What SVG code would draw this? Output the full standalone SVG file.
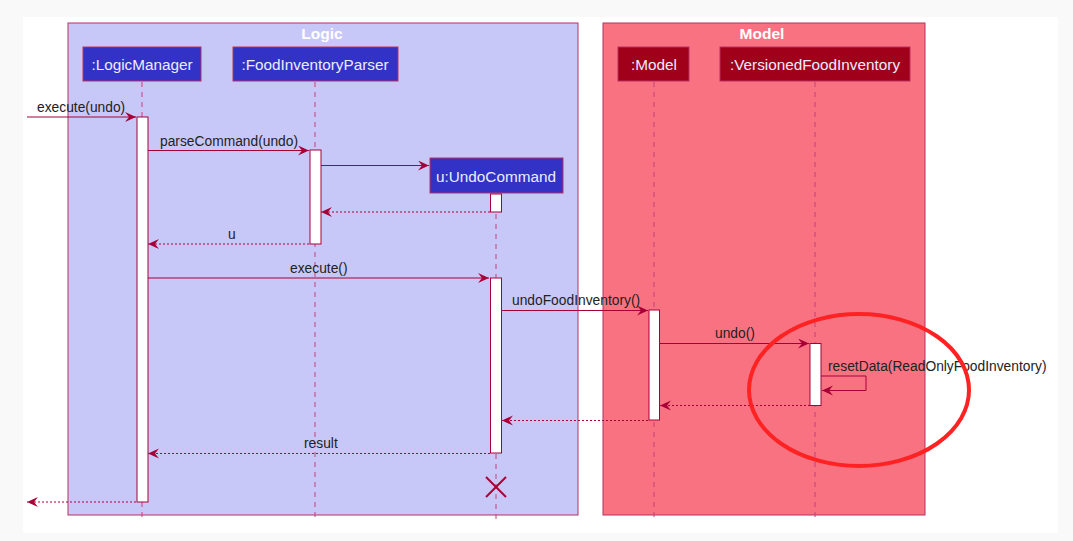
<svg xmlns="http://www.w3.org/2000/svg" width="1073" height="541" viewBox="0 0 1073 541">
<style>
.box{stroke:#b8305e;stroke-width:1}
.ptxt{font-family:"Liberation Sans",Arial,sans-serif;font-size:15.3px;fill:#ececff;text-anchor:middle}
.ttl{font-family:"Liberation Sans",Arial,sans-serif;font-size:15.5px;font-weight:bold;fill:#ffffff;text-anchor:middle}
.life{stroke:#c4407a;stroke-width:1;stroke-dasharray:5,5;fill:none}
.act{fill:#ffffff;stroke:#a80036;stroke-width:1}
.msg{stroke:#a80036;stroke-width:1;fill:none}
.ret{stroke:#a80036;stroke-width:1;fill:none;stroke-dasharray:2,2}
.lbl{font-family:"Liberation Sans",Arial,sans-serif;font-size:13.8px;fill:#222222}
</style>
<defs>
<marker id="ah" markerWidth="12" markerHeight="12" refX="11" refY="5" orient="auto" markerUnits="userSpaceOnUse">
<polygon points="0,0 11,5 0,10 4,5" fill="#a80036"/>
</marker>
</defs>
<rect x="0" y="0" width="1073" height="541" fill="#f9f9f9"/>
<rect x="23" y="17" width="1035" height="516" fill="#ffffff"/>

<g id="logic-box">
<rect x="68" y="23" width="510" height="492" fill="#c8c8f8" class="box"/>
<text x="322" y="39" class="ttl">Logic</text>
</g>
<g id="model-box">
<rect x="603" y="23" width="322" height="492" fill="#f97282" class="box"/>
<text x="762" y="39" class="ttl">Model</text>
</g>

<g id="lifelines">
<line x1="142" y1="82" x2="142" y2="521" class="life"/>
<line x1="315" y1="82" x2="315" y2="521" class="life"/>
<line x1="496" y1="194" x2="496" y2="521" class="life"/>
<line x1="654" y1="82" x2="654" y2="521" class="life"/>
<line x1="815" y1="82" x2="815" y2="521" class="life"/>
</g>

<g id="LogicManager">
<rect x="83" y="47" width="118" height="34" fill="#3232c6" class="box"/>
<text x="142" y="70" class="ptxt">:LogicManager</text>
<rect x="137" y="117" width="11" height="385" class="act"/>
</g>
<g id="FoodInventoryParser">
<rect x="233" y="47" width="165" height="34" fill="#3232c6" class="box"/>
<text x="315" y="70" class="ptxt">:FoodInventoryParser</text>
<rect x="310" y="150" width="11" height="94" class="act"/>
</g>
<g id="UndoCommand">
<rect x="430" y="158" width="133" height="35" fill="#3232c6" class="box"/>
<text x="496" y="182" class="ptxt">u:UndoCommand</text>
<rect x="490.5" y="194" width="11" height="18" class="act"/>
<rect x="490.5" y="278" width="11" height="175" class="act"/>
<g stroke="#a80036" stroke-width="2">
<line x1="486" y1="477" x2="506" y2="497"/>
<line x1="506" y1="477" x2="486" y2="497"/>
</g>
</g>
<g id="Model">
<rect x="618" y="47" width="71" height="34" fill="#a0001a" class="box"/>
<text x="654" y="70" class="ptxt">:Model</text>
<rect x="649" y="310" width="10.5" height="110" class="act"/>
</g>
<g id="VersionedFoodInventory">
<rect x="720" y="47" width="190" height="34" fill="#a0001a" class="box"/>
<text x="815" y="70" class="ptxt">:VersionedFoodInventory</text>
<rect x="810" y="343.5" width="11" height="62" class="act"/>
</g>

<g id="connectors">
<line x1="27" y1="117" x2="136" y2="117" class="msg" marker-end="url(#ah)"/>
<text x="37" y="112" class="lbl">execute(undo)</text>
<line x1="148" y1="150.5" x2="309" y2="150.5" class="msg" marker-end="url(#ah)"/>
<text x="160" y="146" class="lbl">parseCommand(undo)</text>
<line x1="321" y1="165.5" x2="429" y2="165.5" class="msg" marker-end="url(#ah)"/>
<line x1="490" y1="212" x2="321" y2="212" class="ret" marker-end="url(#ah)"/>
<line x1="309" y1="244" x2="148" y2="244" class="ret" marker-end="url(#ah)"/>
<text x="228" y="239" class="lbl">u</text>
<line x1="148" y1="278" x2="489" y2="278" class="msg" marker-end="url(#ah)"/>
<text x="290" y="273" class="lbl">execute()</text>
<line x1="501" y1="310.5" x2="648" y2="310.5" class="msg" marker-end="url(#ah)"/>
<text x="512" y="305" class="lbl">undoFoodInventory()</text>
<line x1="659" y1="343.5" x2="809" y2="343.5" class="msg" marker-end="url(#ah)"/>
<text x="715" y="338" class="lbl">undo()</text>
<polyline points="821,376 866,376 866,390.5 822,390.5" class="msg" marker-end="url(#ah)"/>
<text x="828" y="371" class="lbl">resetData(ReadOnlyFoodInventory)</text>
<line x1="810" y1="405.5" x2="660" y2="405.5" class="ret" marker-end="url(#ah)"/>
<line x1="648" y1="420.5" x2="502" y2="420.5" class="ret" marker-end="url(#ah)"/>
<line x1="490" y1="453.5" x2="148" y2="453.5" class="ret" marker-end="url(#ah)"/>
<text x="304" y="448" class="lbl">result</text>
<line x1="136" y1="502" x2="27" y2="502" class="ret" marker-end="url(#ah)"/>
</g>

<ellipse id="highlight" cx="859" cy="390" rx="110" ry="76" fill="none" stroke="#ff2222" stroke-width="4"/>
</svg>
